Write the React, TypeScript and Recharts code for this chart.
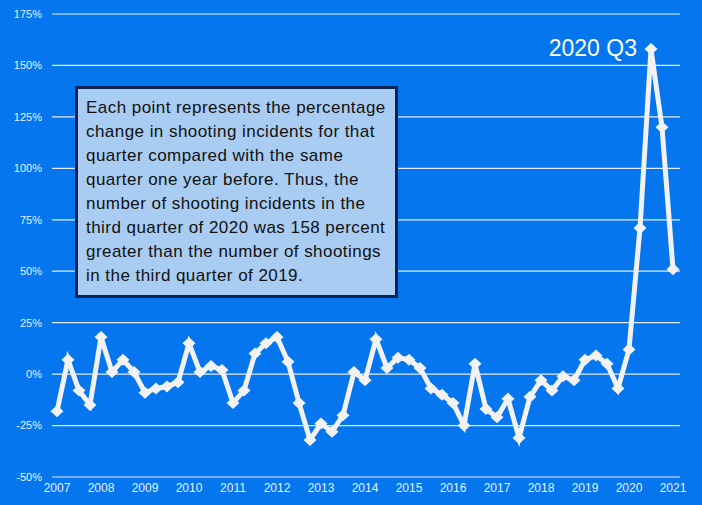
import React from 'react';
import { LineChart, Line, XAxis, YAxis, CartesianGrid } from 'recharts';

// quarters 2007 Q1 .. 2021 Q1
const startYear = 2007;
const quarterLabels = Array.from({ length: 57 }, (_, i) => `${startYear + Math.floor(i / 4)} Q${(i % 4) + 1}`);

const changePct = [
  -18, 7, -8, -15,
  18, 1, 7, 1,
  -9, -7, -6, -4,
  15, 1, 4, 2,
  -14, -8, 10, 15,
  18, 6, -14, -32,
  -24, -28, -20, 1,
  -3, 17, 3, 8,
  7, 3, -7, -10,
  -14, -25, 5, -17,
  -21, -12, -31, -11,
  -3, -8, -1, -3,
  7, 9, 5, -7,
  12, 71, 158, 120,
  51,
];

const yTicks = [-50, -25, 0, 25, 50, 75, 100, 125, 150, 175];
const xTicks = [0, 4, 8, 12, 16, 20, 24, 28, 32, 36, 40, 44, 48, 52, 56];
const highlight = '2020 Q3';

const note =
  'Each point represents the percentage change in shooting incidents for that quarter compared with the same quarter one year before. Thus, the number of shooting incidents in the third quarter of 2020 was 158 percent greater than the number of shootings in the third quarter of 2019.';

const data = changePct.map((v, i) => ({ i, q: quarterLabels[i], v }));

const BG = '#0576ED';
const LINE = '#F2F2F2';
const FONT = 'Arial, "Liberation Sans", sans-serif';

const Diamond = (props: any) => {
  const { cx, cy, index } = props;
  if (cx == null || cy == null) return <g key={index} />;
  const w = 6.5;
  const h = 6;
  return (
    <polygon
      key={index}
      points={`${cx},${cy - h} ${cx + w},${cy} ${cx},${cy + h} ${cx - w},${cy}`}
      fill={LINE}
    />
  );
};

const PeakLabel = (props: any) => {
  const { x, y, index } = props;
  if (data[index]?.q !== highlight) return null;
  return (
    <text x={x - 14} y={y + 7} textAnchor="end" fill="#FFFFFF" fontSize={23} fontFamily={FONT}>
      {highlight}
    </text>
  );
};

export default function App() {
  return (
    <div style={{ position: 'relative', width: 702, height: 505, background: BG }}>
      <style>{`body{margin:0}`}</style>
      <LineChart width={702} height={505} data={data} margin={{ top: 14, right: 22, bottom: 0, left: 0 }}>
        <CartesianGrid vertical={false} stroke="#E4ECF7" strokeWidth={1.2} />
        <XAxis
          dataKey="i"
          type="number"
          domain={[0, 56]}
          ticks={xTicks}
          tickFormatter={(v: number) => String(startYear + v / 4)}
          padding={{ left: 5, right: 7 }}
          height={28}
          axisLine={false}
          tickLine={false}
          tick={{ fill: '#E8F0FA', fontSize: 12, fontFamily: FONT }}
          tickMargin={0}
          interval={0}
        />
        <YAxis
          domain={[-50, 175]}
          ticks={yTicks}
          width={52}
          axisLine={false}
          tickLine={false}
          tickMargin={4}
          tickFormatter={(v: number) => `${v}%`}
          tick={{ fill: '#E8F0FA', fontSize: 11, fontFamily: FONT }}
          interval={0}
        />
        <Line
          dataKey="v"
          stroke={LINE}
          strokeWidth={5}
          dot={<Diamond />}
          activeDot={false}
          label={<PeakLabel />}
          isAnimationActive={false}
        />
      </LineChart>
      <div
        style={{
          position: 'absolute',
          left: 75,
          top: 86,
          width: 323,
          height: 212,
          boxSizing: 'border-box',
          background: '#A9CDF2',
          border: '3px solid #0B2255',
          padding: '7px 6px 0 8px',
          fontFamily: FONT,
          fontSize: 17,
          letterSpacing: '0.45px',
          lineHeight: '24px',
          color: '#111',
        }}
      >
        {note}
      </div>
    </div>
  );
}
